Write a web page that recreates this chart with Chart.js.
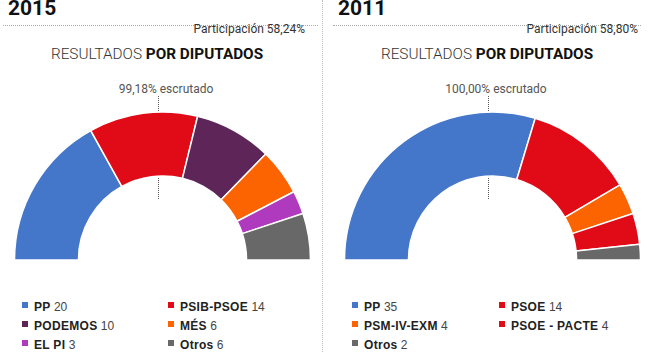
<!DOCTYPE html>
<html>
<head>
<meta charset="utf-8">
<script src="https://cdn.jsdelivr.net/npm/chart.js@4"></script>
<style>
  html, body { margin:0; padding:0; background:#fff; }
  body { width:650px; height:352px; position:relative; overflow:hidden; font-family:Roboto, "Liberation Sans", sans-serif; }
  .abs { position:absolute; }
  .year { font-weight:700; font-size:21px; color:#111; line-height:21px; top:-2px; }
  .hr { border-top:1px dotted #aaa; height:0; top:25px; }
  .vr { border-left:1px dotted #bbb; width:0; top:0; height:352px; left:322px; }
  .part { font-size:12px; color:#333; top:22px; white-space:nowrap; text-align:right; }
  .title { font-size:15.3px; color:#333; top:45px; white-space:nowrap; transform:translateX(-50%); }
  .title .l { font-weight:300; }
  .title b { font-weight:700; color:#111; }
  .escr { font-size:12px; color:#555; top:82px; white-space:nowrap; transform:translateX(-50%); }
  .tick { border-left:1px dotted #555; width:0; top:96px; height:103px; }
  .box { z-index:2; }
  .leg { font-family:"Liberation Sans", Arial, sans-serif; font-size:12px; color:#444; white-space:nowrap; line-height:14px; }
  .leg b { color:#222; letter-spacing:0.3px; }
  .sq { display:inline-block; width:6px; height:6px; position:absolute; left:-12px; top:2px; }
</style>
</head>
<body>
<div id="page"></div>
<script>
// ---- data ----
const parties2015 = ['PP', 'PSIB-PSOE', 'PODEMOS', 'MÉS', 'EL PI', 'Otros'];
const seats2015   = [20, 14, 10, 6, 3, 6];
const colors2015  = ['#4477c9', '#e10a17', '#5d2558', '#fb6400', '#b03abd', '#686868'];

const parties2011 = ['PP', 'PSOE', 'PSM-IV-EXM', 'PSOE - PACTE', 'Otros'];
const seats2011   = [35, 14, 4, 4, 2];
const colors2011  = ['#4477c9', '#e10a17', '#fb6400', '#e10a17', '#686868'];

const years        = ['2015', '2011'];
const turnout      = ['Participación 58,24%', 'Participación 58,80%'];
const scrutinized  = ['99,18% escrutado', '100,00% escrutado'];

const page = document.getElementById('page');

function add(cls, css, html) {
  const d = document.createElement('div');
  d.className = 'abs ' + cls;
  Object.assign(d.style, css);
  if (html) d.innerHTML = html;
  page.appendChild(d);
  return d;
}

// one half of the page: header, half-doughnut, legend
function panel(k, ox, labels, values, colors, legX) {
  add('year', { left: (ox + 8) + 'px' }, years[k]);
  add('hr', { left: (ox + 3) + 'px', width: (k ? 308 : 315) + 'px' });
  add('part', { left: (ox + 100) + 'px', width: (k ? 208 : 205) + 'px' }, turnout[k]);
  add('title', { left: (ox + 157) + 'px' }, '<span class="l">RESULTADOS</span> <b>POR DIPUTADOS</b>');
  add('escr', { left: (ox + 166) + 'px' }, scrutinized[k]);
  add('tick', { left: (ox + 158) + 'px' });

  const box = add('box', { left: (ox + 14) + 'px', top: '111px', width: '297px', height: '150px' });
  const cv = document.createElement('canvas');
  box.appendChild(cv);
  new Chart(cv, {
    type: 'doughnut',
    data: { labels: labels, datasets: [{ data: values, backgroundColor: colors, borderColor: '#fff', borderWidth: 1.5 }] },
    options: {
      responsive: true, maintainAspectRatio: false, animation: false,
      rotation: -90, circumference: 180, radius: 148, cutout: '56.8%',
      layout: { padding: 0 },
      plugins: { legend: { display: false }, tooltip: { enabled: false } }
    }
  });

  // legend, two columns
  labels.forEach((name, i) => {
    const col = i % 2, row = Math.floor(i / 2);
    add('leg', { left: (ox + legX[col]) + 'px', top: (300 + row * 19) + 'px' },
      `<span class="sq" style="background:${colors[i]}"></span><b>${name}</b> ${values[i]}`);
  });
}

panel(0, 0, parties2015, seats2015, colors2015, [34, 180]);
panel(1, 330, parties2011, seats2011, colors2011, [34, 181]);
add('vr', {});
</script>
</body>
</html>
